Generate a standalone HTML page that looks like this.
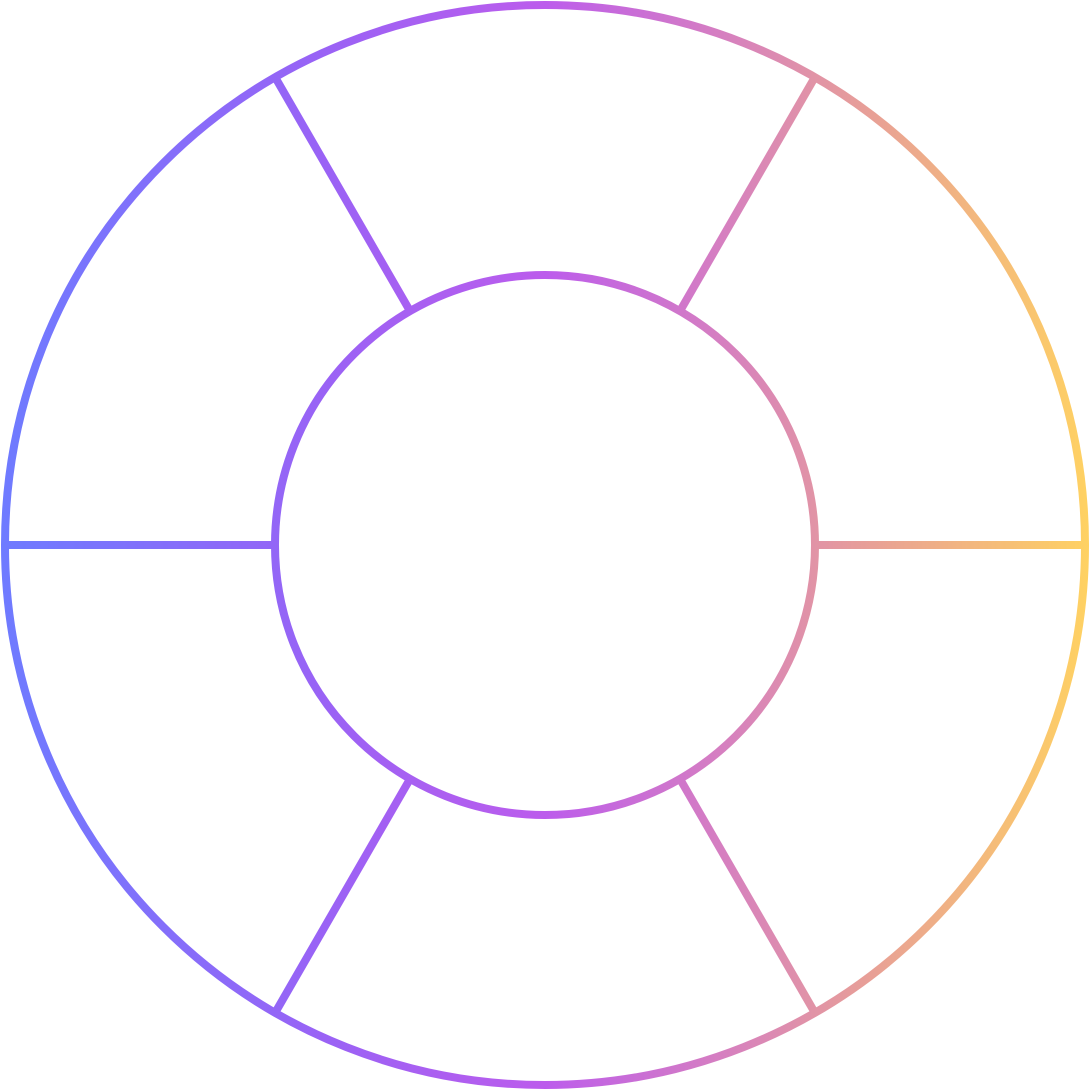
<!DOCTYPE html>
<html><head><style>html,body{margin:0;padding:0;background:#fff;overflow:hidden}svg{display:block}</style></head>
<body>
<svg width="1090" height="1090" viewBox="0 0 1090 1090" xmlns="http://www.w3.org/2000/svg">
<defs>
<linearGradient id="g" gradientUnits="userSpaceOnUse" x1="0" y1="545" x2="1090" y2="545">
<stop offset="0" stop-color="#6e7bff"/>
<stop offset="0.3" stop-color="#9a62f5"/>
<stop offset="0.5" stop-color="#bc5cec"/>
<stop offset="0.65" stop-color="#d47cc4"/>
<stop offset="0.8" stop-color="#e8a096"/>
<stop offset="1" stop-color="#ffd262"/>
</linearGradient>
</defs>
<g fill="none" stroke="url(#g)" stroke-width="8">
<circle cx="545" cy="545" r="540"/>
<circle cx="545" cy="545" r="270"/>
<line x1="5" y1="545" x2="275" y2="545"/>
<line x1="815" y1="545" x2="1085" y2="545"/>
<line x1="410" y1="311" x2="275" y2="77"/>
<line x1="680" y1="311" x2="815" y2="77"/>
<line x1="410" y1="779" x2="275" y2="1013"/>
<line x1="680" y1="779" x2="815" y2="1013"/>
</g>
</svg>
</body></html>
